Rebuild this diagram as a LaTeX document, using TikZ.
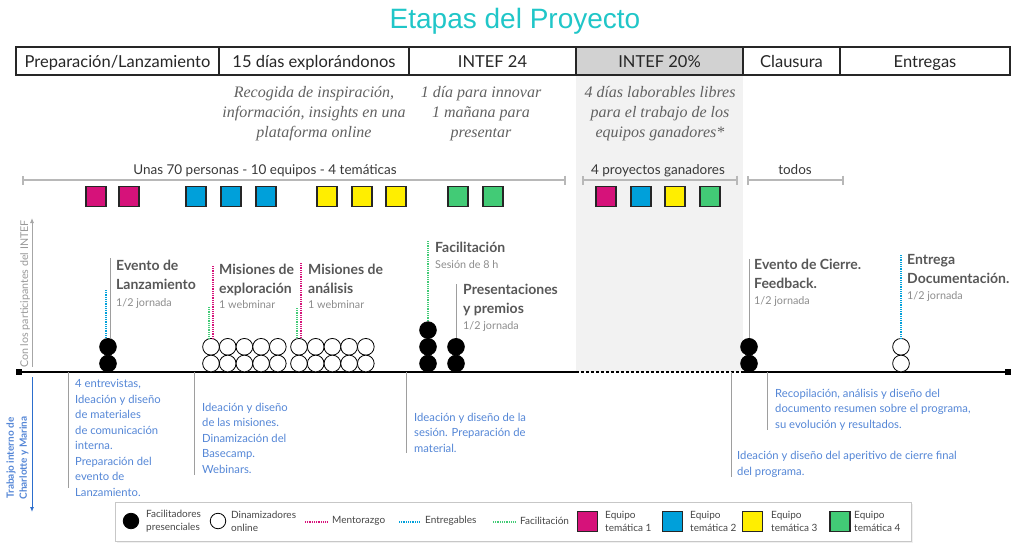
\documentclass[tikz,border=0pt]{standalone}
\usepackage{fontspec}
\setmainfont{Lato}
\newfontfamily\titlefont{Liberation Sans}
\newfontfamily\descfont{Liberation Serif}
\usepackage{tikz}
\definecolor{tl}{RGB}{32, 198, 200}
\definecolor{pk}{RGB}{214, 18, 122}
\definecolor{bl}{RGB}{0, 160, 218}
\definecolor{yl}{RGB}{255, 238, 0}
\definecolor{gr}{RGB}{66, 203, 118}
\definecolor{hd}{RGB}{210, 210, 210}
\definecolor{col}{RGB}{242, 242, 242}
\definecolor{tx}{RGB}{84, 134, 214}
\definecolor{tb}{RGB}{44, 110, 205}
\usetikzlibrary{arrows.meta}
\usetikzlibrary{shadows}

\begin{document}
\begin{tikzpicture}[
every node/.style={inner sep=0pt},
hdcell/.style={draw=black!85, line width=1.3pt, minimum height=28pt, text height=13.5pt, text depth=1.5pt, font=\fontsize{16.5}{18}\selectfont, text=black!85},
desc/.style={font=\descfont\itshape\fontsize{16}{20}\selectfont, text=black!62, align=center, anchor=base},
rng/.style={font=\fontsize{13.5}{15}\selectfont, text=black!78, anchor=base},
bar/.style={line width=2.2pt, color=black!28, {Bar[width=9pt,line width=1.6pt]}-{Bar[width=9pt,line width=1.6pt]}},
sq/.style={minimum size=20pt, draw=black!85, line width=1.2pt},
fp/.style={circle, minimum size=16.7pt, fill=black, draw=black, line width=0.8pt},
dp/.style={circle, minimum size=16.7pt, fill=white, draw=black, line width=0.8pt},
ev/.style={font=\bfseries\fontsize{14}{19}\selectfont, text=black!66, align=left, anchor=base west},
sub/.style={font=\fontsize{10.8}{12}\selectfont, text=black!45, anchor=base west},
bt/.style={font=\fontsize{11.25}{15.5}\selectfont, text=tx, align=left, anchor=base west},
lg/.style={font=\fontsize{10}{13}\selectfont, text=black!72, align=left, anchor=west},
thin/.style={line width=0.9pt, color=black!38},
men/.style={line width=1.8pt, color=pk, dash pattern=on 1pt off 0.8pt},
ent/.style={line width=1.8pt, color=bl, dash pattern=on 1pt off 0.8pt},
fac/.style={line width=1.5pt, color=gr, dash pattern=on 1pt off 0.8pt}
]
\useasboundingbox (0pt, 0pt) rectangle (1024pt, -546pt);
\fill [col] (576pt, -75pt) rectangle (743pt, -372pt);

\node (ttl) [font=\titlefont\fontsize{28}{30}\selectfont, text=tl, anchor=base] at (515pt, -28pt) {Etapas del Proyecto};

\node (h1) [hdcell, minimum width=203pt] at (117.5pt, -61pt) {Preparación/Lanzamiento};
\node (h2) [hdcell, minimum width=190pt] at (314pt, -61pt) {15 días explorándonos};
\node (h3) [hdcell, minimum width=167pt] at (492.5pt, -61pt) {INTEF 24};
\node (h4) [hdcell, minimum width=167pt, fill=hd] at (659.5pt, -61pt) {INTEF 20\%};
\node (h5) [hdcell, minimum width=97pt] at (791.5pt, -61pt) {Clausura};
\node (h6) [hdcell, minimum width=170pt] at (925pt, -61pt) {Entregas};

\node (d2) [desc] at (314pt, -137pt) {Recogida de inspiración,\\información, insights en una\\plataforma online};
\node (d3) [desc] at (481pt, -137pt) {1 día para innovar\\1 mañana para\\presentar};
\node (d4) [desc] at (660pt, -137pt) {4 días laborables libres\\para el trabajo de los\\equipos ganadores*};

\node (r1) [rng] at (265pt, -174pt) {Unas 70 personas - 10 equipos - 4 temáticas};
\node (r2) [rng] at (658pt, -174pt) {4 proyectos ganadores};
\node (r3) [rng] at (795pt, -174pt) {todos};
\coordinate (r1a) at (22pt, -180pt);
\coordinate (r1b) at (566pt, -180pt);
\coordinate (r2a) at (582pt, -180pt);
\coordinate (r2b) at (738pt, -180pt);
\coordinate (r3a) at (747pt, -180pt);
\coordinate (r3b) at (844pt, -180pt);
\draw [bar] (r1a) to (r1b);
\draw [bar] (r2a) to (r2b);
\draw [bar] (r3a) to (r3b);

\node (s1) [sq, fill=pk] at (96pt, -196.5pt) {};
\node (s2) [sq, fill=pk] at (129pt, -196.5pt) {};
\node (s3) [sq, fill=bl] at (196pt, -196.5pt) {};
\node (s4) [sq, fill=bl] at (231pt, -196.5pt) {};
\node (s5) [sq, fill=bl] at (266pt, -196.5pt) {};
\node (s6) [sq, fill=yl] at (327pt, -196.5pt) {};
\node (s7) [sq, fill=yl] at (362pt, -196.5pt) {};
\node (s8) [sq, fill=yl] at (396pt, -196.5pt) {};
\node (s9) [sq, fill=gr] at (458pt, -196.5pt) {};
\node (s10) [sq, fill=gr] at (493pt, -196.5pt) {};
\node (s11) [sq, fill=pk] at (606pt, -196.5pt) {};
\node (s12) [sq, fill=bl] at (641pt, -196.5pt) {};
\node (s13) [sq, fill=yl] at (675pt, -196.5pt) {};
\node (s14) [sq, fill=gr] at (710pt, -196.5pt) {};

\node (t0) [fill=black, minimum size=6pt] at (19pt, -372pt) {};
\node (t1) [fill=black, minimum size=6pt] at (1008pt, -372pt) {};
\coordinate (g0) at (576pt, -372pt);
\coordinate (g1) at (743pt, -372pt);
\draw [line width=2.6pt] (t0) to (g0);
\draw [line width=2.6pt, dash pattern=on 3pt off 2pt] (g0) to (g1);
\draw [line width=2.6pt] (g1) to (t1);

\coordinate (a0) at (32pt, -367pt);
\coordinate (a1) at (32pt, -218pt);
\draw [line width=0.8pt, color=black!35, -{Latex[length=5pt, width=4pt]}] (a0) to (a1);
\node (up) [rotate=90, font=\fontsize{10.7}{11}\selectfont, text=black!40] at (25pt, -294pt) {Con los participantes del INTEF};
\coordinate (b0) at (32pt, -377pt);
\coordinate (b1) at (32pt, -512pt);
\draw [line width=1pt, color=tb, -{Latex[length=5pt, width=4pt]}] (b0) to (b1);
\node (dn) [rotate=90, align=center, font=\bfseries\fontsize{10}{13}\selectfont, text=tx] at (17.5pt, -458pt) {Trabajo interno de\\Charlotte y Marina};

\node (c1) [fp] at (108pt, -346.8pt) {};
\node (c2) [fp] at (108pt, -363.5pt) {};
\coordinate (e1) at (106pt, -290pt);
\coordinate (v1) at (110pt, -258pt);
\draw [thin] (v1) to (v1 |- c1.north);
\draw [ent] (e1) to (e1 |- c1.north);
\node (l1) [ev] at (116pt, -289pt) {Evento de\\Lanzamiento};
\node (l1s) [sub] at (116pt, -306pt) {1/2 jornada};

\node (w1) [dp] at (211pt, -346.8pt) {};
\node (w2) [dp] at (227.7pt, -346.8pt) {};
\node (w3) [dp] at (244.4pt, -346.8pt) {};
\node (w4) [dp] at (261.1pt, -346.8pt) {};
\node (w5) [dp] at (277.8pt, -346.8pt) {};
\node (w6) [dp] at (211pt, -363.5pt) {};
\node (w7) [dp] at (227.7pt, -363.5pt) {};
\node (w8) [dp] at (244.4pt, -363.5pt) {};
\node (w9) [dp] at (261.1pt, -363.5pt) {};
\node (w10) [dp] at (277.8pt, -363.5pt) {};
\node (w11) [dp] at (299pt, -346.8pt) {};
\node (w12) [dp] at (315.7pt, -346.8pt) {};
\node (w13) [dp] at (332.4pt, -346.8pt) {};
\node (w14) [dp] at (349.1pt, -346.8pt) {};
\node (w15) [dp] at (365.8pt, -346.8pt) {};
\node (w16) [dp] at (299pt, -363.5pt) {};
\node (w17) [dp] at (315.7pt, -363.5pt) {};
\node (w18) [dp] at (332.4pt, -363.5pt) {};
\node (w19) [dp] at (349.1pt, -363.5pt) {};
\node (w20) [dp] at (365.8pt, -363.5pt) {};
\coordinate (f2) at (209pt, -307pt);
\coordinate (m2) at (213pt, -266pt);
\draw [fac] (f2) to (f2 |- w1.north);
\draw [men] (m2) to (m2 |- w1.north);
\node (l2) [ev] at (219pt, -293pt) {Misiones de\\exploración};
\node (l2s) [sub] at (219pt, -308pt) {1 webminar};
\coordinate (f3) at (297pt, -308pt);
\coordinate (m3) at (301pt, -263pt);
\draw [fac] (f3) to (f3 |- w11.north);
\draw [men] (m3) to (m3 |- w11.north);
\node (l3) [ev] at (308pt, -293pt) {Misiones de\\análisis};
\node (l3s) [sub] at (308pt, -308pt) {1 webminar};

\node (c3) [fp] at (428pt, -330.1pt) {};
\node (c4) [fp] at (428pt, -346.8pt) {};
\node (c5) [fp] at (428pt, -363.5pt) {};
\coordinate (f4) at (428pt, -241pt);
\draw [fac] (f4) to (c3.north);
\node (l4) [ev] at (435pt, -252pt) {Facilitación};
\node (l4s) [sub] at (435pt, -268pt) {Sesión de 8 h};

\node (c6) [fp] at (456pt, -346.8pt) {};
\node (c7) [fp] at (456pt, -363.5pt) {};
\coordinate (v5) at (456pt, -284pt);
\draw [thin] (v5) to (c6.north);
\node (l5) [ev] at (463pt, -313pt) {Presentaciones\\y premios};
\node (l5s) [sub] at (463pt, -329pt) {1/2 jornada};

\node (c8) [fp] at (749pt, -346.8pt) {};
\node (c9) [fp] at (749pt, -363.5pt) {};
\coordinate (v6) at (749pt, -259pt);
\draw [thin] (v6) to (c8.north);
\node (l6) [ev] at (754pt, -288pt) {Evento de Cierre.\\Feedback.};
\node (l6s) [sub] at (754pt, -304pt) {1/2 jornada};

\node (w21) [dp] at (901pt, -346.8pt) {};
\node (w22) [dp] at (901pt, -363.5pt) {};
\coordinate (e7) at (901pt, -255pt);
\draw [ent] (e7) to (w21.north);
\node (l7) [ev] at (907pt, -283pt) {Entrega\\Documentación.};
\node (l7s) [sub] at (907pt, -299pt) {1/2 jornada};

\coordinate (p1a) at (68pt, -372pt);
\coordinate (p1b) at (68pt, -488pt);
\coordinate (p2a) at (194pt, -372pt);
\coordinate (p2b) at (194pt, -475pt);
\coordinate (p3a) at (406pt, -372pt);
\coordinate (p3b) at (406pt, -453pt);
\coordinate (p4a) at (731pt, -372pt);
\coordinate (p4b) at (731pt, -477pt);
\coordinate (p5a) at (767pt, -372pt);
\coordinate (p5b) at (767pt, -430pt);
\draw [thin] (p1a) to (p1b);
\draw [thin] (p2a) to (p2b);
\draw [thin] (p3a) to (p3b);
\draw [thin] (p4a) to (p4b);
\draw [thin] (p5a) to (p5b);
\node (i1) [bt] at (75pt, -496pt) {4 entrevistas,\\Ideación y diseño\\de materiales\\de comunicación\\interna.\\Preparación del\\evento de\\Lanzamiento.};
\node (i2) [bt] at (202pt, -473pt) {Ideación y diseño\\de las misiones.\\Dinamización del\\Basecamp.\\Webinars.};
\node (i3) [bt] at (414pt, -452pt) {Ideación y diseño de la\\sesión. Preparación de\\material.};
\node (i4) [bt] at (737pt, -475pt) {Ideación y diseño del aperitivo de cierre final\\del programa.};
\node (i5) [bt] at (775pt, -428pt) {Recopilación, análisis y diseño del\\documento resumen sobre el programa,\\su evolución y resultados.};

\node (lgd) [draw=black!22, line width=0.8pt, fill=white, minimum width=796pt, minimum height=39pt, drop shadow={opacity=0.12, shadow xshift=1.5pt, shadow yshift=-1.5pt}] at (513pt, -521.5pt) {};
\node (k1) [fp, minimum size=15.5pt] at (131pt, -521pt) {};
\node (k1t) [lg] at (146pt, -521pt) {Facilitadores\\presenciales};
\node (k2) [dp, minimum size=15.5pt] at (218pt, -521pt) {};
\node (k2t) [lg] at (231pt, -521pt) {Dinamizadores\\online};
\coordinate (k3a) at (305pt, -522pt);
\coordinate (k3b) at (327pt, -522pt);
\draw [men] (k3a) to (k3b);
\node (k3t) [lg] at (332pt, -521pt) {Mentorazgo};
\coordinate (k4a) at (399pt, -522pt);
\coordinate (k4b) at (420pt, -522pt);
\draw [ent] (k4a) to (k4b);
\node (k4t) [lg] at (425pt, -521pt) {Entregables};
\coordinate (k5a) at (493pt, -522pt);
\coordinate (k5b) at (515pt, -522pt);
\draw [fac] (k5a) to (k5b);
\node (k5t) [lg] at (520pt, -521pt) {Facilitación};
\node (k6) [sq, fill=pk] at (587.5pt, -521.5pt) {};
\node (k6t) [lg] at (605pt, -521pt) {Equipo\\temática 1};
\node (k7) [sq, fill=bl] at (672.5pt, -521.5pt) {};
\node (k7t) [lg] at (690pt, -521pt) {Equipo\\temática 2};
\node (k8) [sq, fill=yl] at (752.5pt, -521.5pt) {};
\node (k8t) [lg] at (771pt, -521pt) {Equipo\\temática 3};
\node (k9) [sq, fill=gr] at (840pt, -521.5pt) {};
\node (k9t) [lg] at (854pt, -521pt) {Equipo\\temática 4};
\end{tikzpicture}
\end{document}
